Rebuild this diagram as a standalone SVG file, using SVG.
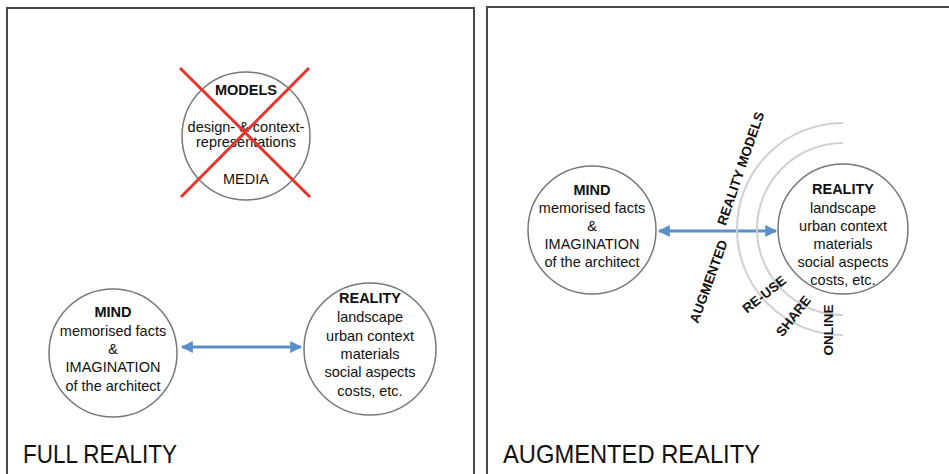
<svg xmlns="http://www.w3.org/2000/svg" width="949" height="474" viewBox="0 0 949 474">
<defs>
<style>
.frame{fill:none;stroke:#4a4a4a;stroke-width:2}
.node{fill:#fff;stroke:#777;stroke-width:1.5}
.t{font-family:"Liberation Sans",Arial,sans-serif;font-size:14.5px;fill:#111;text-anchor:middle}
.b{font-weight:bold}
.lbl{font-family:"Liberation Sans",Arial,sans-serif;font-size:13.5px;font-weight:bold;fill:#111;text-anchor:middle}
.title{font-family:"Liberation Sans",Arial,sans-serif;font-size:25px;fill:#111}
.arr{stroke:#5b8fc9;stroke-width:3;fill:none;marker-start:url(#ah);marker-end:url(#ah)}
.arc{fill:none;stroke:#d0d0d0;stroke-width:2}
.cross{stroke:#e8352b;stroke-width:3}
</style>
<marker id="ah" viewBox="0 0 10 10" refX="9" refY="5" markerWidth="4.5" markerHeight="4" orient="auto-start-reverse" markerUnits="strokeWidth">
<path d="M0,0 L10,5 L0,10 z" fill="#5b8fc9"/>
</marker>
</defs>
<rect x="0" y="0" width="949" height="474" fill="#fff"/>
<rect class="frame" x="7" y="8" width="467" height="480"/>
<rect class="frame" x="487" y="7" width="480" height="480"/>

<g id="connectors">
<line class="arr" x1="182" y1="347" x2="301" y2="347"/>
<line class="arr" x1="659" y1="231" x2="776" y2="231"/>
</g>

<g id="arcs">
<path class="arc" d="M843,123 A106,106 0 0 0 843,335"/>
<path class="arc" d="M843,143 A86,86 0 0 0 843,315"/>
</g>

<g id="models">
<circle class="node" cx="246" cy="136" r="64"/>
<text class="t b" x="246" y="95" font-size="13.5">MODELS</text>
<text class="t" x="246" y="132" font-size="11.5">design- &amp; context-</text>
<text class="t" x="246" y="147" font-size="11.5">representations</text>
<text class="t" x="246" y="184" font-size="13.5">MEDIA</text>
<line class="cross" x1="180" y1="68" x2="310" y2="197"/>
<line class="cross" x1="309" y1="68" x2="181" y2="197"/>
</g>

<g id="mind-full">
<circle class="node" cx="113" cy="353" r="64"/>
<text class="t b" x="113" y="317">MIND</text>
<text class="t" x="113" y="336">memorised facts</text>
<text class="t" x="113" y="354">&amp;</text>
<text class="t" x="113" y="372">IMAGINATION</text>
<text class="t" x="113" y="391">of the architect</text>
</g>

<g id="reality-full">
<circle class="node" cx="370" cy="349" r="66"/>
<text class="t b" x="370" y="303">REALITY</text>
<text class="t" x="370" y="322">landscape</text>
<text class="t" x="370" y="341">urban context</text>
<text class="t" x="370" y="359">materials</text>
<text class="t" x="370" y="377">social aspects</text>
<text class="t" x="370" y="396">costs, etc.</text>
</g>

<g id="mind-aug">
<circle class="node" cx="592" cy="230" r="64"/>
<text class="t b" x="592" y="195">MIND</text>
<text class="t" x="592" y="213">memorised facts</text>
<text class="t" x="592" y="231">&amp;</text>
<text class="t" x="592" y="249">IMAGINATION</text>
<text class="t" x="592" y="267">of the architect</text>
</g>

<g id="reality-aug">
<circle class="node" cx="843" cy="229" r="65"/>
<text class="t b" x="843" y="194">REALITY</text>
<text class="t" x="843" y="213">landscape</text>
<text class="t" x="843" y="231">urban context</text>
<text class="t" x="843" y="249">materials</text>
<text class="t" x="843" y="267">social aspects</text>
<text class="t" x="843" y="285">costs, etc.</text>
</g>

<g id="labels">
<text class="lbl" transform="translate(745,170) rotate(-71)">REALITY MODELS</text>
<text class="lbl" transform="translate(713,283) rotate(-70)">AUGMENTED</text>
<text class="lbl" transform="translate(767,298) rotate(-38)">RE-USE</text>
<text class="lbl" transform="translate(797,319) rotate(-52)">SHARE</text>
<text class="lbl" transform="translate(833,330) rotate(-90)">ONLINE</text>
</g>

<text class="title" x="23" y="463" textLength="154" lengthAdjust="spacingAndGlyphs">FULL REALITY</text>
<text class="title" x="503" y="463" textLength="257" lengthAdjust="spacingAndGlyphs">AUGMENTED REALITY</text>
</svg>
